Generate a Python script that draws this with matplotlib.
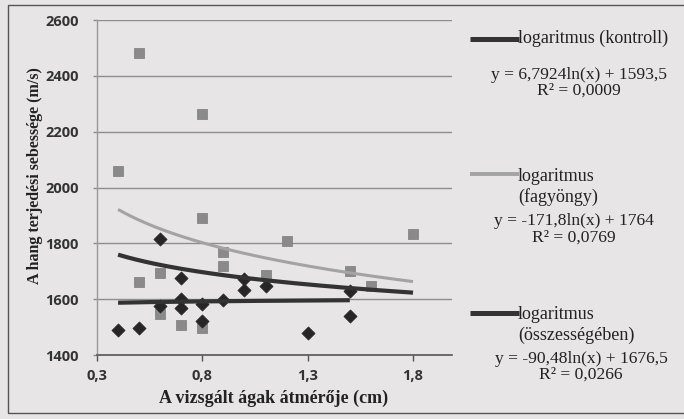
import matplotlib
matplotlib.use("Agg")
import matplotlib.pyplot as plt
import numpy as np
from matplotlib.patches import Rectangle

# Measurements: branch diameter (cm) and sound propagation speed (m/s)
kontroll_x = [0.4, 0.5, 0.6, 0.6, 0.7, 0.7, 0.7, 0.8, 0.8, 0.9, 1.0, 1.0, 1.1, 1.3, 1.5, 1.5]
kontroll_y = [1489, 1495, 1817, 1574, 1677, 1600, 1570, 1582, 1523, 1598, 1674, 1633, 1648, 1479, 1630, 1540]

fagyongy_x = [0.4, 0.5, 0.5, 0.6, 0.6, 0.7, 0.8, 0.8, 0.8, 0.9, 0.9, 1.1, 1.2, 1.5, 1.6, 1.8]
fagyongy_y = [2060, 2483, 1660, 1695, 1546, 1507, 2265, 1890, 1495, 1770, 1719, 1686, 1808, 1701, 1648, 1832]

# Logarithmic trend lines y = a*ln(x) + b
trend_names = ["logaritmus (kontroll)", "logaritmus\n(fagyöngy)", "logaritmus\n(összességében)"]
trend_a = [6.7924, -171.8, -90.48]
trend_b = [1593.5, 1764.0, 1676.5]
trend_r2 = ["0,0009", "0,0769", "0,0266"]
trend_eq = ["y = 6,7924ln(x) + 1593,5", "y = -171,8ln(x) + 1764", "y = -90,48ln(x) + 1676,5"]

x_ticks = [0.3, 0.8, 1.3, 1.8]
x_tick_labels = ["0,3", "0,8", "1,3", "1,8"]
y_ticks = [1400, 1600, 1800, 2000, 2200, 2400, 2600]

paper = "#e7e5e5"
ink = "#222222"
dark = "#333333"
light = "#a3a3a3"
serif = ["Liberation Serif", "DejaVu Serif"]
sans = ["Open Sans", "DejaVu Sans"]

fig = plt.figure(figsize=(6.84, 4.19), dpi=100)
fig.patch.set_facecolor(paper)

# outer frame of the chart
fig.patches.append(Rectangle((8 / 684, 1 - 413 / 419), 1.0, (413 - 5) / 419,
                             transform=fig.transFigure, fill=False,
                             edgecolor="#555555", lw=1.0))

ax = fig.add_axes([97 / 684, 1 - 355 / 419, (452 - 97) / 684, 335 / 419])
ax.set_facecolor(paper)
ax.set_xlim(0.3, 1.985)
ax.set_ylim(1400, 2600)

for y in y_ticks[1:]:
    ax.axhline(y, color="#8e8e8e", lw=1.0, zorder=1)

for s in ["top", "right"]:
    ax.spines[s].set_visible(False)
ax.spines["left"].set_color("#9a9a9a")
ax.spines["left"].set_linewidth(1.0)
ax.spines["bottom"].set_color("#555555")
ax.spines["bottom"].set_linewidth(1.2)

ax.set_xticks(x_ticks)
ax.set_xticklabels(x_tick_labels)
ax.set_yticks(y_ticks)
ax.tick_params(axis="x", direction="out", length=4, width=1, color="#555555",
               pad=6, labelsize=10.5, labelcolor="#333333")
ax.tick_params(axis="y", direction="out", length=3, width=1, color="#8e8e8e",
               pad=10, labelsize=10.5, labelcolor="#333333")
for lab in ax.get_xticklabels() + ax.get_yticklabels():
    lab.set_family(sans)
    lab.set_fontweight("bold")

ax.scatter(fagyongy_x, fagyongy_y, marker="s", s=60, color="#8a8a8a",
           edgecolors="#7c7c7c", linewidths=0.5, zorder=3)
ax.scatter(kontroll_x, kontroll_y, marker="D", s=45, color="#262626",
           edgecolors="#262626", linewidths=0.5, zorder=3)

# trend lines drawn over each series' diameter range
ranges = [(min(kontroll_x), max(kontroll_x)),
          (min(fagyongy_x), max(fagyongy_x)),
          (min(kontroll_x + fagyongy_x), max(kontroll_x + fagyongy_x))]
colors = [dark, light, dark]
widths = [3.0, 2.2, 3.0]
for (lo, hi), a, b, c, w in zip(ranges, trend_a, trend_b, colors, widths):
    xs = np.linspace(lo, hi, 200)
    ax.plot(xs, a * np.log(xs) + b, color=c, lw=w, zorder=4, solid_capstyle="butt")

ax.set_xlabel("A vizsgált ágak átmérője (cm)", family=serif, fontweight="bold",
              fontsize=13, color=ink)
ax.xaxis.set_label_coords(0.497, -0.103)
ax.set_ylabel("A hang terjedési sebessége (m/s)", family=serif, fontweight="bold",
              fontsize=11.5, color=ink)
ax.yaxis.set_label_coords(-0.152, 0.535)

# legend entries with equations
def fx(px):
    return px / 684

def fy(py):
    return 1 - py / 419

line_y = [39, 174, 313]
name_top = [30, 168, 306]
eq_y = [75, 221, 359]
r2_y = [91, 238, 375]
eq_cx = [579, 574, 581]
for i in range(3):
    fig.add_artist(plt.Line2D([fx(470), fx(519)], [fy(line_y[i]), fy(line_y[i])],
                              transform=fig.transFigure, color=colors[i],
                              lw=widths[i] + 0.6, solid_capstyle="butt"))
    fig.text(fx(518), fy(name_top[i]), trend_names[i], family=serif,
             fontsize=13, color=ink, va="top", ha="left", linespacing=1.25)
    fig.text(fx(eq_cx[i]), fy(eq_y[i]), trend_eq[i], family=serif,
             fontsize=12.6, color=ink, va="center", ha="center")
    fig.text(fx(eq_cx[i]), fy(r2_y[i]), "R² = " + trend_r2[i], family=serif,
             fontsize=12.6, color=ink, va="center", ha="center")

fig.savefig("out.png", dpi=100, facecolor=paper)
